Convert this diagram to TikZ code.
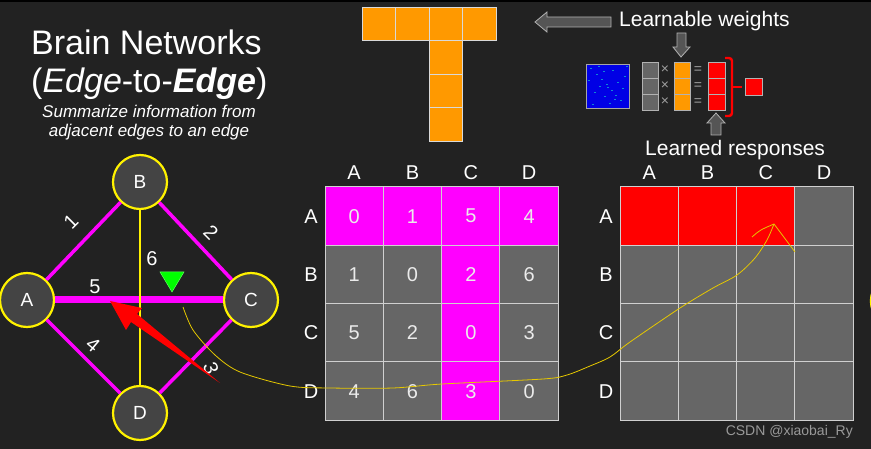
\documentclass[tikz,border=0pt]{standalone}
\usepackage{fontspec}
\setmainfont{Liberation Sans}
\usetikzlibrary{shapes.geometric,positioning}

\definecolor{bg}{HTML}{222222}
\definecolor{mag}{HTML}{FF00FF}
\definecolor{cellgray}{HTML}{666666}
\definecolor{gridgray}{HTML}{D0D0D0}
\definecolor{nodegray}{HTML}{444444}
\definecolor{wt}{HTML}{FF9900}
\definecolor{resp}{HTML}{FF0000}
\definecolor{arrgray}{HTML}{555555}
\definecolor{hand}{HTML}{E6C800}

\tikzset{
  sz/.style={font=\fontsize{#1}{#1}\selectfont},
  gnode/.style={circle, draw=yellow, line width=2.2pt, fill=nodegray,
    minimum size=54pt, inner sep=0pt, sz=19},
  cell/.style={rectangle, draw=gridgray, line width=1pt, minimum size=58.33pt,
    inner sep=0pt, text=white!92!black, sz=20},
  hdr/.style={sz=20},
  elabel/.style={sz=20, inner sep=0pt},
  wcell/.style={fill=wt, draw=gridgray!80, line width=0.8pt},
  fatarrow/.style={fill=arrgray, draw=gray!60, line width=0.8pt},
  opsign/.style={sz=14, text=gray!75, inner sep=0pt},
  notetext/.style={anchor=base, inner sep=0pt, font=\itshape\fontsize{17}{17}\selectfont}
}

\begin{document}
\begin{tikzpicture}[x=1pt, y=-1pt, every node/.style={text=white}]
% Background
\fill[bg] (0,0) rectangle (871,449);
\useasboundingbox (0,0) rectangle (871,449);
\fill[black] (0,0) rectangle (871,2);

% Title
\node[anchor=base west, sz=34, inner sep=0pt] (title) at (31,55) {Brain Networks};
\node[anchor=base west, sz=34, inner sep=0pt] (subtitle) at (31,93)
  {(\textit{Edge}-to-\textbf{\textit{Edge}})};
\node[notetext] (note1) at (149,118) {Summarize information from};
\node[notetext] (note2) at (149,137) {adjacent edges to an edge};

% Learnable filter (T shape)
\foreach \i in {0,...,3}
  \filldraw[wcell] ({362+\i*33.5},7) rectangle ++(33.5,33.5);
\foreach \j in {1,...,3}
  \filldraw[wcell] (429,{7+\j*33.5}) rectangle ++(33.5,33.5);

% Legend arrows and texts
\filldraw[fatarrow] (535,22) -- (547,12) -- (547,17) -- (611,17) -- (611,27)
  -- (547,27) -- (547,32) -- cycle;
\node[anchor=west, sz=21, inner sep=0pt] (lw) at (619,21) {Learnable weights};
\filldraw[fatarrow] (681,57) -- (673,47) -- (677,47) -- (677,33) -- (686,33)
  -- (686,47) -- (690,47) -- cycle;
\filldraw[fatarrow] (716,113) -- (707,123) -- (711,123) -- (711,135) -- (721,135)
  -- (721,123) -- (725,123) -- cycle;
\node[anchor=west, sz=21, inner sep=0pt] (lr) at (645,150) {Learned responses};

% Small pipeline
\filldraw[fill=blue!90!black, draw=gray!70, line width=0.8pt] (586,64) rectangle (629,108);
\foreach \p in {(590,68),(596,74),(601,79),(606,84),(607,87),(611,90),(615,95),
  (620,100),(603,71),(617,82),(594,92),(624,76),(609,103),(599,86),(588,80),
  (612,70),(622,88),(604,96),(592,104),(626,66),(598,66),(614,99)}
  \fill[cyan!70!blue] \p rectangle ++(1.5,1.5);
\foreach \j in {0,1,2} {
  \filldraw[fill=cellgray, draw=gray!60, line width=0.8pt] (642,{62+\j*16}) rectangle ++(16,16);
  \filldraw[fill=wt, draw=gray!60, line width=0.8pt] (674,{62+\j*16}) rectangle ++(16,16);
  \filldraw[fill=resp, draw=gray!60, line width=0.8pt] (708,{62+\j*16}) rectangle ++(17,16);
  \node[opsign] (times\j) at (665,{70+\j*16}) {×};
  \node[opsign] (eq\j) at (698,{70+\j*16}) {=};
}
\draw[resp, line width=2.4pt, rounded corners=3pt] (725,58) -- (732,58) -- (732,116) -- (725,116);
\draw[resp, line width=2.4pt] (732,87) -- (742,87);
\filldraw[fill=resp, draw=gray!60, line width=0.8pt] (745,78) rectangle (762,95);

% Graph
\node[gnode] (B) at (140,182) {B};
\node[gnode] (A) at (27,300) {A};
\node[gnode] (C) at (251,300) {C};
\node[gnode] (D) at (140,413) {D};
\draw[mag, line width=3.5pt] (A) -- (B) (B) -- (C) (C) -- (D) (D) -- (A);
\draw[mag, line width=7pt] (A) -- (C);
\draw[yellow, line width=1.8pt] (B) -- (D);
\node[elabel, rotate=45] (w1) at (71,222) {1};
\node[elabel, rotate=-45] (w2) at (211,232) {2};
\node[elabel, rotate=-70] (w3) at (211,368) {3};
\node[elabel, rotate=-40] (w4) at (93,345) {4};
\node[elabel] (w5) at (95,287) {5};
\node[elabel] (w6) at (152,259) {6};
\filldraw[fill=green, draw=green!60!white, line width=0.5pt] (160,272) -- (184,272) -- (172,292) -- cycle;

% Edge matrix
\foreach \l [count=\c] in {A,B,C,D} {
  \node[hdr] (eh-\c) at ({325+(\c-0.5)*58.33},173) {\l};
  \node[hdr] (er-\c) at (311,{187+(\c-0.5)*58.33}) {\l};
  \node[hdr] (rh-\c) at ({620+(\c-0.5)*58.33},173) {\l};
  \node[hdr] (rr-\c) at (606,{187+(\c-0.5)*58.33}) {\l};
}
\foreach \row [count=\r] in {{0,1,5,4},{1,0,2,6},{5,2,0,3},{4,6,3,0}} {
  \foreach \v [count=\c] in \row {
    \pgfmathtruncatemacro\hot{(\r==1||\c==3)?1:0}
    \ifnum\hot=1 \def\cfill{mag}\else\def\cfill{cellgray}\fi
    \node[cell, fill=\cfill] (e-\r-\c) at ({325+(\c-0.5)*58.33},{187+(\r-0.5)*58.33}) {\v};
  }
}

% Response matrix
\foreach \r in {1,...,4} {
  \foreach \c in {1,...,4} {
    \pgfmathtruncatemacro\hot{(\r==1&&\c<4)?1:0}
    \ifnum\hot=1 \def\cfill{resp}\else\def\cfill{cellgray}\fi
    \node[cell, fill=\cfill] (o-\r-\c) at ({620+(\c-0.5)*58.33},{187+(\r-0.5)*58.33}) {};
  }
}

% Hand-drawn annotations
\fill[resp] (220,383) -- (137,314) -- (142,308) -- (110,301) -- (126,330)
  -- (131,322) -- cycle;
\draw[hand, line width=0.8pt] plot[smooth] coordinates {(183,307) (193,330) (215,355)
  (240,372) (290,386) (330,388) (393,388) (442,384) (543,379) (567,375) (590,366)
  (610,357) (630,342) (680,308) (713,288) (737,275) (755,258) (767,240) (774,224)};
\draw[hand, line width=0.8pt] (752,237) .. controls (760,230) .. (774,224) -- (795,252);

% Neighbouring node, cut off
\draw[yellow, line width=2.2pt] (900,301) circle (29);

% Watermark
\node[anchor=east, sz=14, text=gray!80, inner sep=0pt] (mark) at (853,432) {CSDN @xiaobai\_Ry};
\end{tikzpicture}
\end{document}
